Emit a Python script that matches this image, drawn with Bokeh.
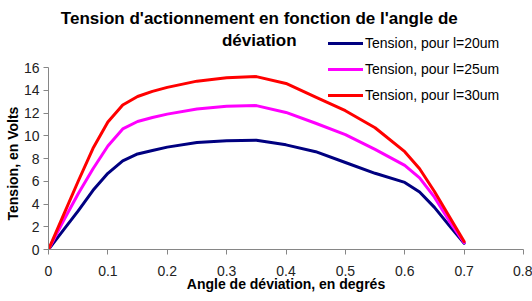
from bokeh.plotting import figure
from bokeh.models import Range1d, Legend, LegendItem, Label, FixedTicker, Title
from bokeh.embed import file_html
from bokeh.resources import INLINE

# ---- data ----
angle = [0.0, 0.025, 0.05, 0.075, 0.1, 0.125, 0.15, 0.175, 0.2, 0.25, 0.3, 0.35,
         0.4, 0.45, 0.5, 0.55, 0.6, 0.625, 0.65, 0.675, 0.7]
tension_20 = [0.0, 1.7, 3.4, 5.2, 6.7, 7.8, 8.4, 8.7, 9.0, 9.4, 9.55, 9.6,
              9.2, 8.6, 7.65, 6.7, 5.9, 5.05, 3.7, 2.1, 0.55]
tension_25 = [0.0, 2.5, 4.9, 7.1, 9.1, 10.6, 11.25, 11.6, 11.9, 12.35, 12.6, 12.65,
              12.05, 11.1, 10.1, 8.8, 7.4, 6.3, 4.6, 2.5, 0.6]
tension_30 = [0.0, 3.0, 6.0, 8.9, 11.2, 12.7, 13.45, 13.9, 14.25, 14.8, 15.1, 15.2,
              14.6, 13.4, 12.2, 10.7, 8.6, 7.1, 5.1, 2.9, 0.7]
series_labels = ["Tension, pour l=20um", "Tension, pour l=25um", "Tension, pour l=30um"]
series_colors = ["#000080", "#FF00FF", "#FF0000"]
x_ticks = [0, 0.1, 0.2, 0.3, 0.4, 0.5, 0.6, 0.7, 0.8]
y_ticks = [0, 2, 4, 6, 8, 10, 12, 14, 16]
y_axis_max = 16
title_lines = ["Tension d'actionnement en fonction de l'angle de", "déviation"]
x_label = "Angle de déviation, en degrés"
y_label = "Tension, en Volts"

FONT = "Liberation Sans"
W, H = 532, 301
BOTTOM = 52
PX_PER_UNIT = 182 / 16.0          # vertical scale of the reference
y_top = (H - BOTTOM) / PX_PER_UNIT  # frame extends to the top of the canvas

p = figure(width=W, height=H, output_backend="svg", toolbar_location=None,
           x_range=Range1d(0, 0.8), y_range=Range1d(0, y_top),
           min_border_left=48, min_border_right=9, min_border_top=0,
           min_border_bottom=BOTTOM)
p.outline_line_color = None
p.grid.visible = False
p.background_fill_color = "white"
p.border_fill_color = "white"

renderers = []
for ys, c in zip([tension_20, tension_25, tension_30], series_colors):
    r = p.line(angle, ys, line_color=c, line_width=3, line_join="round", line_cap="round")
    renderers.append(r)

for ax in (p.xaxis[0], p.yaxis[0]):
    ax.axis_line_color = "#868686"
    ax.major_tick_line_color = "#868686"
    ax.minor_tick_line_color = None
    ax.major_tick_out = 5
    ax.major_tick_in = 0
    ax.major_label_text_font = FONT
    ax.major_label_text_font_size = "14px"
    ax.major_label_text_color = "#222222"
    ax.axis_label_text_font = FONT
    ax.axis_label_text_font_size = "14px"
    ax.axis_label_text_font_style = "bold"
    ax.axis_label_text_color = "#000000"

p.yaxis.bounds = (0, y_axis_max)
p.xaxis.ticker = FixedTicker(ticks=x_ticks)
p.yaxis.ticker = FixedTicker(ticks=y_ticks)
p.xaxis.major_label_overrides = {t: ("0" if t == 0 else f"{t:g}") for t in x_ticks}
p.xaxis.axis_label = x_label
p.xaxis.major_label_standoff = 11
p.xaxis.axis_label_standoff = -3
p.yaxis.major_label_standoff = 4

# y label: a left-side title, aligned from the bottom of the frame so it sits
# centred on the 0..16 part of the axis, as in the reference
ytitle = Title(text=y_label, align="left", offset=29, standoff=0,
               text_font=FONT, text_font_size="14px", text_font_style="bold",
               text_color="#000000")
p.add_layout(ytitle, "left")

legend = Legend(items=[LegendItem(label=l, renderers=[r]) for l, r in zip(series_labels, renderers)],
                location=(280, 144), orientation="vertical",
                glyph_width=35, glyph_height=20, label_height=20,
                label_standoff=2, spacing=6, padding=0, margin=0,
                border_line_color=None, background_fill_alpha=0,
                label_text_font=FONT, label_text_font_size="14px",
                label_text_color="#000000")
p.add_layout(legend, "center")

title_y = [(H - BOTTOM - 18) / PX_PER_UNIT, (H - BOTTOM - 40) / PX_PER_UNIT]
for t, ty in zip(title_lines, title_y):
    p.add_layout(Label(x=0.355, y=ty, text=t, text_align="center",
                       text_baseline="middle", text_font=FONT, text_font_size="17px",
                       text_font_style="bold", text_color="#000000"))

open("out.html", "w").write(file_html(p, INLINE))
